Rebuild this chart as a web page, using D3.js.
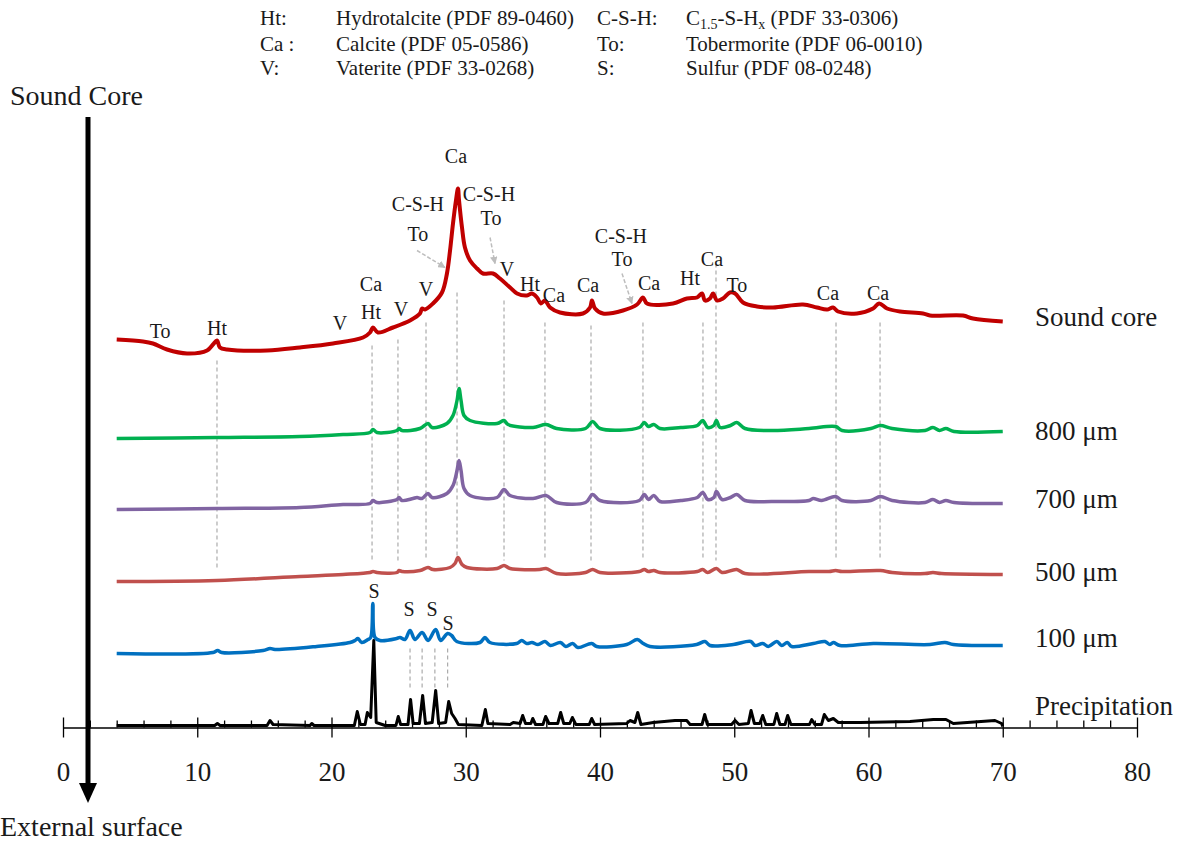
<!DOCTYPE html>
<html><head><meta charset="utf-8">
<script src="https://cdn.jsdelivr.net/npm/d3@7"></script>
<style>
body{margin:0;background:#fff;}
svg{display:block;}
text{font-family:"Liberation Serif","Times New Roman",serif;fill:#1a1a1a;}
</style>
</head><body>
<svg id="chart" width="1189" height="844"></svg>
<script>
// ---------------- DATA ----------------
const seriesNames = ["Precipitation", "100 μm", "500 μm", "700 μm", "800 μm", "Sound core"];
const seriesOffsets = [0, 72, 145, 215, 287, 380];           // stacking offsets (a.u.)
const seriesLabelLevels = [22, 90, 156, 229, 297, 411];      // a.u., where the name sits

const xTicksMajor = [0, 10, 20, 30, 40, 50, 60, 70, 80];
const xTicksMinor = [2, 4, 6, 8, 12, 14, 16, 18, 22, 24, 26, 28, 32, 34, 36, 38, 42, 44, 46, 48, 52, 54, 56, 58, 62, 64, 66, 68, 72, 74, 76, 78];

// [2θ, intensity a.u.]
const precipitation = [[4.0,2],[11.3,2],[11.5,4],[11.7,2],[15.2,2],[15.42,7],[15.65,3],[18.4,2],[18.53,4],[18.7,2],[21.7,2],[21.92,16],[22.15,3],[22.5,3],[22.67,15],[22.92,10],[23.15,87],[23.33,5],[24.0,2],[24.8,2],[24.97,11],[25.15,3],[25.7,3],[25.89,28],[26.08,4],[26.55,4],[26.79,32],[27.0,4],[27.5,5],[27.76,37],[27.98,4],[28.5,5],[28.73,26],[28.95,14],[29.2,9],[29.45,3],[31.2,2],[31.46,18],[31.65,4],[33.3,3],[33.54,5],[34.05,4],[34.24,12],[34.45,4],[34.85,4],[34.99,9],[35.2,3],[35.75,3],[35.95,11],[36.2,4],[36.85,4],[37.07,15],[37.3,4],[37.75,4],[37.94,10],[38.2,3],[39.2,3],[39.38,9],[39.6,3],[41.99,4],[42.24,7],[42.6,5],[42.81,15],[43.05,3],[43.97,5],[45.59,7],[46.46,7],[46.71,3],[47.6,3],[47.8,13],[48.0,3],[49.8,3],[50.06,7],[50.35,3],[51.05,4],[51.25,17],[51.5,4],[51.9,4],[52.12,12],[52.35,3],[52.95,3],[53.16,14],[53.4,3],[53.78,3],[53.98,12],[54.22,3],[55.6,3],[55.77,8],[56.0,3],[56.5,3],[56.71,13],[57.01,7],[57.38,9],[57.75,5],[59.37,5],[63.09,6],[64.83,8],[65.77,8],[66.32,4],[69.42,7],[69.92,4],[70.0,1]];

const um100 = [[4.0,2],[11.17,3],[11.52,5],[11.82,3],[14.9,5],[15.42,7],[15.79,6],[18.9,9],[21.38,13],[21.75,15],[21.97,17],[22.25,13],[22.72,16],[22.92,18],[23.08,52],[23.24,18],[23.61,15],[24.85,17],[25.1,18],[25.47,16],[25.85,25],[26.22,16],[26.75,23],[27.19,15],[27.76,26],[28.13,15],[28.65,22],[28.95,20],[29.33,14],[31.06,13],[31.43,18],[31.8,13],[33.79,12],[34.17,15],[34.54,12],[34.93,13],[35.38,11],[35.9,14],[36.3,10],[37.05,13],[37.46,9],[37.96,12],[38.36,8],[39.38,12],[39.75,9],[41.99,11],[42.78,16],[43.22,12],[43.72,9],[47.2,11],[47.82,14],[48.19,10],[49.93,11],[51.23,14],[51.55,10],[52.12,12],[52.54,9],[53.17,14],[53.54,10],[53.95,13],[54.28,9],[55.89,12],[56.76,14],[57.13,11],[57.38,13],[57.88,10],[60.36,12],[64.58,11],[65.7,13],[66.32,11],[70.0,10]];

const um500 = [[4.0,1],[11.47,2],[17.65,6],[20.86,8],[22.87,10],[23.09,11],[23.39,10],[24.88,10],[25.03,12],[25.25,11],[26.59,12],[27.19,15],[27.56,13],[28.83,15],[29.2,19],[29.42,25],[29.72,18],[30.09,15],[32.33,14],[32.85,17],[33.3,14],[35.5,13],[35.98,14],[36.77,9],[38.92,10],[39.45,13],[40.0,10],[42.93,11],[43.3,13],[43.61,11],[44.01,12],[44.47,10],[47.25,11],[47.65,13],[48.02,10],[48.67,14],[49.09,10],[50.18,13],[50.8,9],[55.57,11],[57.06,11],[57.55,12],[58.03,11],[60.88,12],[61.76,10],[64.21,9],[64.8,10],[65.44,9],[70.0,8]];

const um700 = [[4.0,3],[11.47,4],[17.65,5],[20.86,8],[22.87,9],[23.09,12],[23.39,10],[24.88,13],[25.03,15],[25.25,12],[26.07,14],[26.37,15],[26.74,14],[27.19,19],[27.49,15],[28.6,19],[29.05,27],[29.35,42],[29.5,52],[29.65,42],[29.87,24],[30.32,17],[32.33,15],[32.85,23],[33.3,17],[35.01,14],[35.98,17],[36.77,10],[38.92,10],[39.45,18],[40.0,12],[42.93,12],[43.3,18],[43.61,13],[44.01,17],[44.47,11],[46.02,12],[47.25,15],[47.65,20],[48.02,13],[48.48,15],[48.67,21],[49.09,13],[49.72,15],[50.18,18],[50.8,12],[52.8,11],[55.57,12],[55.87,14],[56.51,12],[57.55,16],[58.03,12],[60.18,12],[60.88,16],[61.76,12],[64.21,10],[64.8,13],[65.29,10],[65.76,12],[66.37,10],[70.0,9]];

const um800 = [[4.0,2],[11.47,3],[17.65,4],[20.86,6],[22.87,8],[23.09,11],[23.39,8],[24.88,10],[25.03,12],[25.25,10],[26.59,12],[27.19,17],[27.49,13],[28.6,17],[29.05,25],[29.35,40],[29.5,52],[29.65,40],[29.87,25],[30.32,20],[32.33,17],[32.85,20],[33.15,16],[35.01,13],[35.98,16],[36.77,12],[38.92,12],[39.45,19],[40.0,12],[42.93,13],[43.3,18],[43.61,14],[44.01,16],[44.47,12],[46.02,13],[47.25,15],[47.65,20],[48.02,13],[48.48,15],[48.67,20],[48.94,13],[49.72,15],[50.18,18],[50.8,12],[52.8,10],[55.57,12],[57.55,14],[58.03,10],[60.18,12],[60.88,15],[61.76,12],[64.21,10],[64.8,13],[65.29,10],[65.76,12],[66.37,9],[70.0,9]];

const soundCore = [[4.0,8],[5.96,6],[6.7,4],[7.75,-2],[9.24,-6],[10.73,-3],[11.17,3],[11.47,7],[11.69,0],[12.22,-2],[15.2,-3],[17.65,0],[20.11,4],[22.35,10],[22.87,15],[23.09,20],[23.46,15],[24.58,20],[25.85,27],[26.59,34],[26.74,39],[26.97,38],[27.56,44],[28.23,55],[28.6,74],[28.83,97],[29.05,124],[29.27,147],[29.42,159],[29.5,147],[29.72,120],[29.94,100],[30.32,87],[30.84,79],[31.28,74],[32.03,74],[32.55,69],[33.3,60],[33.82,54],[34.56,52],[34.93,54],[35.31,50],[35.6,44],[35.9,47],[36.28,40],[37.02,35],[38.73,34],[39.26,40],[39.4,47],[39.63,39],[40.22,34],[41.71,37],[42.76,43],[43.2,50],[43.5,44],[45.44,44],[46.48,49],[47.23,50],[47.6,54],[47.82,47],[48.19,49],[48.42,54],[48.72,47],[49.16,49],[49.68,55],[50.06,54],[50.65,45],[51.69,41],[52.89,40],[55.12,43],[56.16,40],[56.91,38],[57.36,40],[57.73,36],[59.14,34],[60.34,39],[60.79,44],[61.38,39],[62.35,36],[64.06,34],[64.58,32],[67.04,32],[67.78,29],[70.0,26]];

const seriesData = [precipitation, um100, um500, um700, um800, soundCore];

// phase labels: [text, 2θ, level a.u.]
const peakLabels = [["To",7.23,390],["Ht",11.47,393],["V",20.63,398],["Ca",22.94,437],["Ht",22.94,409],["V",25.18,412],["V",27.04,432],["C-S-H",26.44,517],["To",26.44,487],["Ca",29.27,565],["C-S-H",31.73,527],["To",31.88,503],["V",33.07,452],["Ht",34.79,437],["Ca",36.57,426],["Ca",39.11,436],["C-S-H",41.56,485],["To",41.64,462],["Ca",43.65,438],["Ht",46.7,443],["Ca",48.34,462],["To",50.2,436],["Ca",56.98,428],["Ca",60.71,428],["S",23.17,130],["S",25.77,112],["S",27.49,112],["S",28.68,98]];

// reference (dashed) lines: [2θ, top level, bottom level]
const refLines = [[11.47,367,159],[23.02,382,167],[24.95,388,167],[27.04,405,167],[29.35,435,167],[32.85,427,167],[35.9,405,167],[39.33,402,167],[43.2,405,167],[47.67,405,167],[48.64,464,167],[57.58,405,167],[60.86,405,167]];
const sulfurLines = [[25.85,79,39],[26.75,79,39],[27.7,79,39],[28.65,79,39]];
// pointer arrows: [x1, level1, x2, level2]
const pointerArrows = [[26.37,477,28.45,460],[31.81,490,32.18,464],[41.64,454,42.38,424]];

const legendRows = [["Ht:","Hydrotalcite (PDF 89-0460)","C-S-H:",null],["Ca :","Calcite (PDF 05-0586)","To:","Tobermorite (PDF 06-0010)"],["V:","Vaterite (PDF 33-0268)","S:","Sulfur (PDF 08-0248)"]];

// ---------------- STYLE ----------------
const seriesColors = ["#000000", "#0070c0", "#c0504d", "#8064a2", "#00b050", "#c00000"];
const seriesWidths = [3, 3.5, 3.5, 3.5, 3.5, 4];

// ---------------- DRAW ----------------
const svg = d3.select("#chart");
const x = d3.scaleLinear().domain([0, 80]).range([63, 1137]);
const y = d3.scaleLinear().domain([0, 700]).range([727.5, 27.5]);

const defs = svg.append("defs");
defs.append("marker").attr("id","ah").attr("viewBox","0 0 10 10").attr("refX",9).attr("refY",5)
  .attr("markerWidth",5).attr("markerHeight",5).attr("orient","auto")
  .append("path").attr("d","M0,0L10,5L0,10z").attr("fill","#bdbdbd");

// legend
const lg = svg.append("g").attr("font-size", 21);
const rowsY = [25, 51, 75];
legendRows.forEach((r, i) => {
  lg.append("text").attr("x", 260).attr("y", rowsY[i]).text(r[0]);
  lg.append("text").attr("x", 336).attr("y", rowsY[i]).text(r[1]);
  lg.append("text").attr("x", 597).attr("y", rowsY[i]).text(r[2]);
  if (r[3]) lg.append("text").attr("x", 686).attr("y", rowsY[i]).text(r[3]);
});
const csh = lg.append("text").attr("x", 686).attr("y", rowsY[0]);
csh.append("tspan").text("C");
csh.append("tspan").attr("font-size", 14).attr("dy", 4).text("1.5");
csh.append("tspan").attr("dy", -4).text("-S-H");
csh.append("tspan").attr("font-size", 14).attr("dy", 4).text("x");
csh.append("tspan").attr("dy", -4).text(" (PDF 33-0306)");

// dashed reference lines
const refG = svg.append("g").attr("stroke", "#ababab").attr("stroke-width", 1.2).attr("stroke-dasharray", "4,3");
refG.selectAll("line.r").data(refLines).join("line").attr("class","r")
  .attr("x1", d => x(d[0])).attr("x2", d => x(d[0])).attr("y1", d => y(d[1])).attr("y2", d => y(d[2]));
refG.selectAll("line.s").data(sulfurLines).join("line").attr("class","s")
  .attr("x1", d => x(d[0])).attr("x2", d => x(d[0])).attr("y1", d => y(d[1])).attr("y2", d => y(d[2]));

// pointer arrows
svg.append("g").selectAll("line").data(pointerArrows).join("line")
  .attr("x1", d => x(d[0])).attr("y1", d => y(d[1])).attr("x2", d => x(d[2])).attr("y2", d => y(d[3]))
  .attr("stroke", "#bdbdbd").attr("stroke-width", 1.5).attr("stroke-dasharray", "4,2").attr("marker-end", "url(#ah)");

// axis
const axisG = svg.append("g").attr("transform", `translate(0,${y(0)})`);
const minorAx = d3.axisBottom(x).tickValues(xTicksMinor).tickSize(-7).tickFormat("");
const minorG = axisG.append("g").call(minorAx);
minorG.select(".domain").remove();
minorG.selectAll("line").attr("stroke", "#000").attr("stroke-width", 1.3);
const majorAx = d3.axisBottom(x).tickValues(xTicksMajor).tickSize(10).tickSizeOuter(0);
const majorG = axisG.append("g").call(majorAx);
majorG.select(".domain").attr("stroke", "#000").attr("stroke-width", 1.6);
majorG.selectAll(".tick line").attr("y1", -10).attr("y2", 10).attr("stroke", "#000").attr("stroke-width", 1.3);
majorG.selectAll(".tick text").attr("y", 53).attr("dy", 0).attr("font-size", 27)
  .attr("font-family", "Liberation Serif, serif").attr("fill", "#1a1a1a");

// series
const curves = [d3.curveLinear, d3.curveCatmullRom.alpha(0.5), d3.curveCatmullRom.alpha(0.5), d3.curveCatmullRom.alpha(0.5), d3.curveCatmullRom.alpha(0.5), d3.curveCatmullRom.alpha(0.5)];
const drawOrder = [1, 0, 2, 3, 4, 5];
drawOrder.forEach(i => {
  const line = d3.line().x(d => x(d[0])).y(d => y(d[1] + seriesOffsets[i])).curve(curves[i]);
  svg.append("path").datum(seriesData[i])
    .attr("d", line)
    .attr("fill", "none").attr("stroke", seriesColors[i]).attr("stroke-width", seriesWidths[i])
    .attr("stroke-linejoin", "round");
});

// series names
svg.append("g").selectAll("text").data(seriesNames).join("text")
  .attr("x", x(72.4)).attr("y", (d, i) => y(seriesLabelLevels[i])).attr("dy", "0.35em")
  .attr("font-size", 27).text(d => d);

// peak labels
svg.append("g").selectAll("text").data(peakLabels).join("text")
  .attr("x", d => x(d[1])).attr("y", d => y(d[2])).attr("text-anchor", "middle")
  .attr("font-size", 20).text(d => d[0]);

// depth arrow
svg.append("line").attr("x1", 88).attr("x2", 88).attr("y1", 117).attr("y2", 786)
  .attr("stroke", "#000").attr("stroke-width", 5);
svg.append("path").attr("d", "M79,783L97,783L88,803Z").attr("fill", "#000");
svg.append("text").attr("x", 10).attr("y", 105).attr("font-size", 28).text("Sound Core");
svg.append("text").attr("x", 0).attr("y", 836).attr("font-size", 28).text("External surface");
</script>
</body></html>
